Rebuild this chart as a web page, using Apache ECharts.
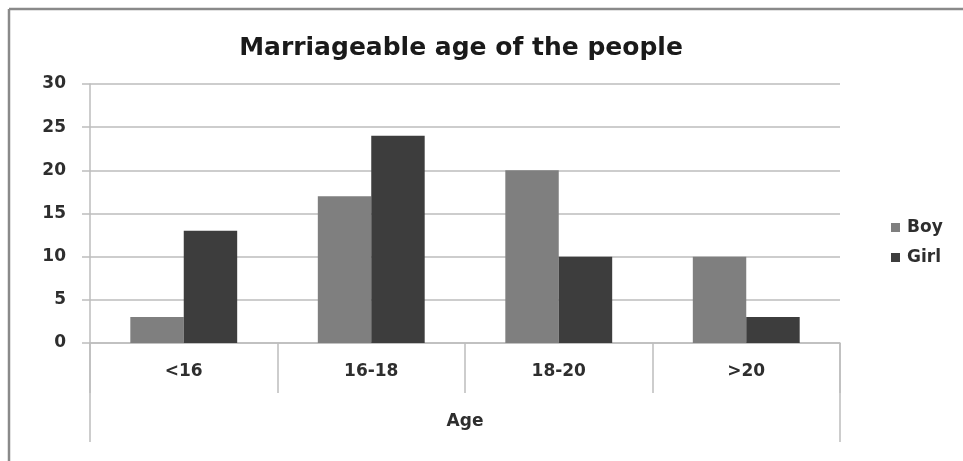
<!DOCTYPE html>
<html>
<head>
<meta charset="utf-8">
<script src="https://cdn.jsdelivr.net/npm/echarts@6/dist/echarts.min.js"></script>
<style>
  html, body { margin: 0; padding: 0; background: #fff; }
  #chart { width: 963px; height: 461px; }
</style>
</head>
<body>
<div id="chart"></div>
<script>
// Age groups and counts per group
const categories = ['<16', '16-18', '18-20', '>20'];
const boyValues = [3, 17, 20, 10];
const girlValues = [13, 24, 10, 3];
const yTicks = [0, 5, 10, 15, 20, 25, 30];

const chart = echarts.init(document.getElementById('chart'), null, { renderer: 'canvas' });
const fontFamily = '"DejaVu Sans", Verdana, sans-serif';
const textColor = '#2e2e2e';
const lineColor = '#bdbdbd';

chart.setOption({
  backgroundColor: '#ffffff',
  animation: false,
  title: {
    text: 'Marriageable age of the people',
    left: 456,
    top: 31,
    textAlign: 'center',
    textStyle: { fontFamily, fontSize: 25, fontWeight: 'bold', color: '#1a1a1a' }
  },
  legend: {
    orient: 'vertical',
    left: 886,
    top: 214,
    itemWidth: 9,
    itemHeight: 9,
    itemGap: 13,
    icon: 'rect',
    textStyle: { fontFamily, fontSize: 17, fontWeight: 'bold', color: textColor, padding: [0, 0, 0, 2] },
    data: ['Boy', 'Girl']
  },
  grid: { left: 90, right: 123, top: 84, bottom: 118, containLabel: false },
  xAxis: {
    type: 'category',
    data: categories,
    name: 'Age',
    nameLocation: 'middle',
    nameGap: 70,
    nameTextStyle: { fontFamily, fontSize: 17, fontWeight: 'bold', color: textColor },
    axisLine: { show: true, lineStyle: { color: lineColor, width: 1.5 } },
    axisTick: { show: true, length: 50, alignWithLabel: false, lineStyle: { color: lineColor, width: 1.5 } },
    axisLabel: { margin: 20, fontFamily, fontSize: 17, fontWeight: 'bold', color: textColor },
    splitLine: { show: false }
  },
  yAxis: {
    type: 'value',
    min: yTicks[0],
    max: yTicks[yTicks.length - 1],
    interval: yTicks[1] - yTicks[0],
    axisLine: { show: true, lineStyle: { color: lineColor, width: 1.5 } },
    axisTick: { show: true, length: 8, lineStyle: { color: lineColor, width: 1.5 } },
    axisLabel: { margin: 24, fontFamily, fontSize: 17, fontWeight: 'bold', color: textColor },
    splitLine: { show: true, lineStyle: { color: lineColor, width: 1.5 } }
  },
  series: [
    {
      name: 'Boy',
      type: 'bar',
      data: boyValues,
      itemStyle: { color: '#7f7f7f' },
      barGap: '0%',
      barCategoryGap: '43%'
    },
    {
      name: 'Girl',
      type: 'bar',
      data: girlValues,
      itemStyle: { color: '#3d3d3d' },
      barGap: '0%',
      barCategoryGap: '43%'
    }
  ]
});

// Outer category boundary lines extending below the axis, and the frame edges
function drawExtras() {
  const zero = chart.convertToPixel({ yAxisIndex: 0 }, 0);
  const bottom = zero + 99;
  const leftX = 90;
  const rightX = chart.getWidth() - 123;
  chart.setOption({
    graphic: [
      { type: 'line', shape: { x1: leftX, y1: zero, x2: leftX, y2: bottom }, style: { stroke: lineColor, lineWidth: 1.5 }, silent: true },
      { type: 'line', shape: { x1: rightX, y1: zero, x2: rightX, y2: bottom }, style: { stroke: lineColor, lineWidth: 1.5 }, silent: true },
      { type: 'line', shape: { x1: 9, y1: 9, x2: 963, y2: 9 }, style: { stroke: '#8a8a8a', lineWidth: 2.5 }, silent: true },
      { type: 'line', shape: { x1: 9, y1: 9, x2: 9, y2: 461 }, style: { stroke: '#8a8a8a', lineWidth: 2.5 }, silent: true }
    ]
  });
}
drawExtras();
</script>
</body>
</html>
